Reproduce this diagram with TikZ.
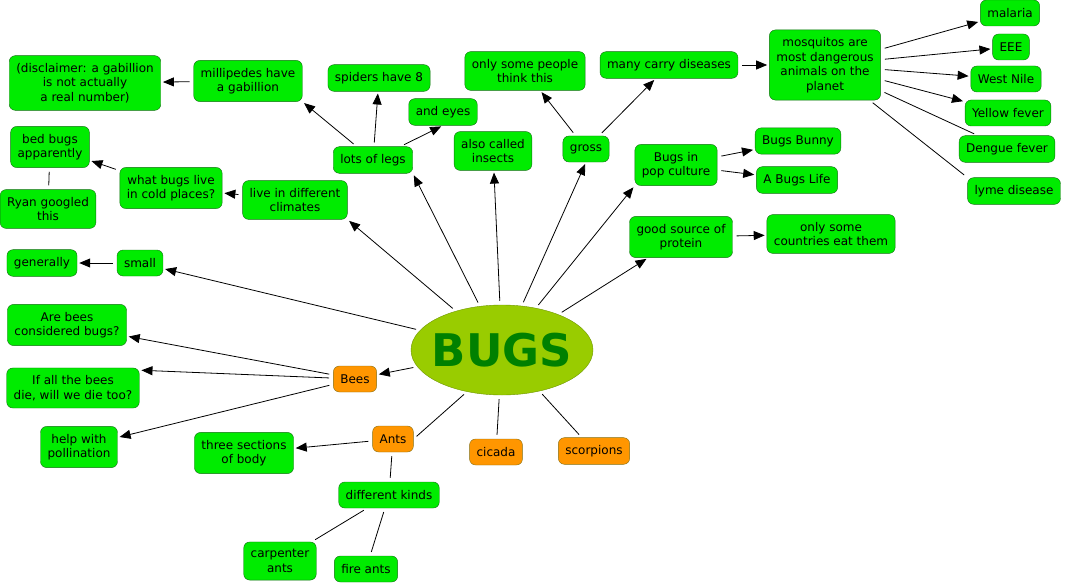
\documentclass[tikz,border=0pt]{standalone}
\usepackage{fontspec}
\usepackage{tikz}
\usetikzlibrary{shapes.geometric, arrows.meta}
\newfontfamily\mapfont{DejaVu Sans}
\definecolor{boxgreen}{RGB}{0,236,0}
\definecolor{boxedge}{RGB}{20,110,20}
\definecolor{hubfill}{RGB}{255,150,0}
\definecolor{hubedge}{RGB}{130,110,20}
\definecolor{topicfill}{RGB}{153,204,0}
\definecolor{topicedge}{RGB}{110,150,0}
\definecolor{topictext}{RGB}{0,128,0}

\begin{document}
\begin{tikzpicture}[
  x=1pt, y=-1pt,
  box/.style   = {rectangle, draw=boxedge, fill=boxgreen, rounded corners=6pt,
                  font=\mapfont\fontsize{12}{14.5}\selectfont, align=center,
                  inner xsep=7pt, inner ysep=7.5pt, minimum height=26pt},
  hub/.style   = {box, fill=hubfill, draw=hubedge},
  topic/.style = {ellipse, draw=topicedge, fill=topicfill, text=topictext,
                  minimum width=182pt, minimum height=90pt, inner sep=-6pt,
                  font=\mapfont\bfseries\fontsize{45}{50}\selectfont},
  arr/.style   = {-{Triangle[length=11pt,width=9pt]}, line width=0.8pt,
                  shorten <=4pt, shorten >=2pt},
  ln/.style    = {line width=0.8pt, shorten <=4pt, shorten >=4pt},
]
\useasboundingbox (0,0) rectangle (1065,583);

% centre
\node[topic] (bugs) at (502,350) {BUGS};

% upper left
\node[box] (disclaimer) at (85,83)  {(disclaimer: a gabillion\\is not actually\\a real number)};
\node[box] (millipedes) at (248,81) {millipedes have\\a gabillion};
\node[box] (spiders)    at (379,78) {spiders have 8};
\node[box] (eyes)       at (443,112) {and eyes};
\node[box] (legs)       at (373,160) {lots of legs};
\node[box] (insects)    at (493,151) {also called\\insects};
\node[box] (climates)   at (295,200) {live in different\\climates};
\node[box] (cold)       at (171,188) {what bugs live\\in cold places?};
\node[box] (bedbugs)    at (50,147)  {bed bugs\\apparently};
\node[box] (ryan)       at (48,209)  {Ryan googled\\this};
\node[box] (small)      at (140,263) {small};
\node[box] (generally)  at (42,263)  {generally};

% upper right
\node[box] (people)     at (525,71)  {only some people\\think this};
\node[box] (gross)      at (586,149) {gross};
\node[box] (diseases)   at (669,65)  {many carry diseases};
\node[box] (mosquitos)  at (825,65)  {mosquitos are\\most dangerous\\animals on the\\planet};
\node[box] (malaria)    at (1010,13) {malaria};
\node[box] (eee)        at (1011,47) {EEE};
\node[box] (westnile)   at (1006,79) {West Nile};
\node[box] (yellow)     at (1008,113) {Yellow fever};
\node[box] (dengue)     at (1007,149) {Dengue fever};
\node[box] (lyme)       at (1014,191) {lyme disease};
\node[box] (popculture) at (676,165) {Bugs in\\pop culture};
\node[box] (bunny)      at (798,141) {Bugs Bunny};
\node[box] (buglife)    at (797,180) {A Bugs Life};
\node[box] (protein)    at (681,237) {good source of\\protein};
\node[box] (countries)  at (831,234) {only some\\countries eat them};

% lower part
\node[box] (arebees)    at (67,325)  {Are bees\\considered bugs?};
\node[box] (ifall)      at (73,388)  {If all the bees\\die, will we die too?};
\node[box] (pollen)     at (79,447)  {help with\\pollination};
\node[hub] (bees)       at (355,379) {Bees};
\node[hub] (ants)       at (393,439) {Ants};
\node[box] (sections)   at (244,453) {three sections\\of body};
\node[box] (kinds)      at (389,495) {different kinds};
\node[box] (carpenter)  at (280,561) {carpenter\\ants};
\node[box] (fireants)   at (366,569) {fire ants};
\node[hub] (cicada)     at (496,452) {cicada};
\node[hub] (scorpions)  at (594,451) {scorpions};

% from the centre
\draw[arr] (bugs) -- (legs.south east);
\draw[arr] (bugs) -- (insects);
\draw[arr] (bugs) -- (gross.south);
\draw[arr] (bugs) -- (popculture.south west);
\draw[arr] (bugs) -- (protein);
\draw[arr] (bugs) -- (climates.south east);
\draw[arr] (bugs) -- (small);
\draw[arr] (bugs) -- (bees);
\draw[ln]  (bugs.230) -- (ants.east);
\draw[ln]  (bugs) -- (cicada);
\draw[ln]  (bugs) -- (scorpions);

% legs
\draw[arr] (legs) -- (millipedes.south east);
\draw[arr] (legs) -- (spiders);
\draw[arr] (legs) -- (eyes.south);
\draw[arr] (millipedes) -- (disclaimer);

% gross
\draw[arr] (gross) -- (people);
\draw[arr] (gross) -- (diseases);
\draw[arr] (diseases) -- (mosquitos);
\draw[arr] (mosquitos) -- (malaria);
\draw[arr] (mosquitos) -- (eee);
\draw[arr] (mosquitos) -- (westnile);
\draw[arr] (mosquitos) -- (yellow);
\draw[ln]  (mosquitos) -- (dengue);
\draw[ln]  (mosquitos) -- (lyme.north west);

% pop culture, protein
\draw[arr] (popculture) -- (bunny);
\draw[arr] (popculture) -- (buglife);
\draw[arr] (protein) -- (countries);

% climates, small
\draw[arr] (climates) -- (cold);
\draw[arr] (cold) -- (bedbugs);
\draw[ln]  (bedbugs) -- (ryan);
\draw[arr] (small) -- (generally);

% bees, ants
\draw[arr] (bees) -- (arebees);
\draw[arr] (bees) -- (ifall.15);
\draw[arr] (bees) -- (pollen);
\draw[arr] (ants) -- (sections);
\draw[ln]  (ants) -- (kinds);
\draw[ln]  (kinds) -- (carpenter);
\draw[ln]  (kinds) -- (fireants);
\end{tikzpicture}
\end{document}
